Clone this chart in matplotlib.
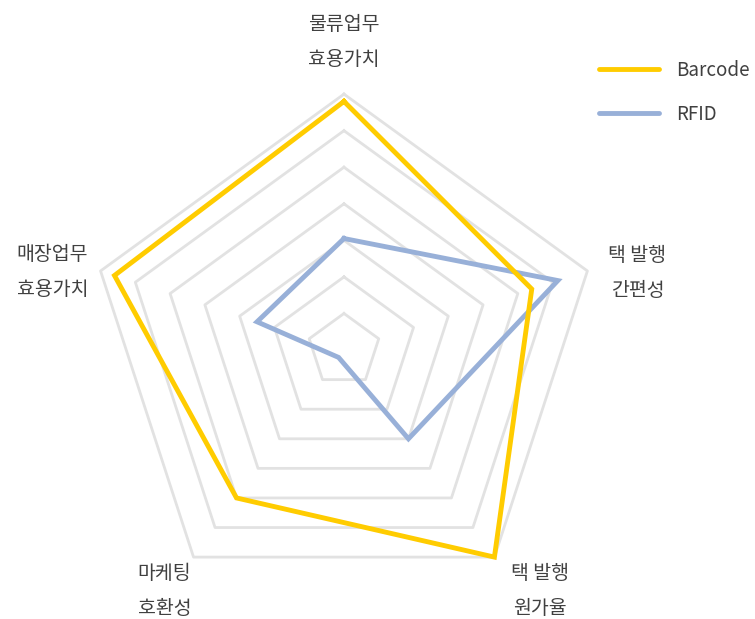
import numpy as np
import matplotlib
matplotlib.use('Agg')
import matplotlib.pyplot as plt

plt.rcParams['font.family'] = ['Noto Sans CJK KR', 'DejaVu Sans']

categories = [('물류업무', '효용가치'), ('택 발행', '간편성'), ('택 발행', '원가율'),
              ('마케팅', '호환성'), ('매장업무', '효용가치')]
barcode = [6.8, 5.4, 7.0, 5.0, 6.6]
rfid = [3.05, 6.15, 3.0, 0.25, 2.5]
levels = [1, 2, 3, 4, 5, 6, 7]

# label centre offsets (pixels) from each outer vertex
label_offsets = [(0, 52), (50, -2), (46, -34), (-29, -34), (-48, -1)]
line_gap = 35

angles = np.linspace(0, 2 * np.pi, len(categories), endpoint=False)
closed = np.append(angles, angles[0])

fig = plt.figure(figsize=(7.55, 6.19), dpi=100)
ax = fig.add_axes([0.1166, 0.021, 0.678, 0.827], projection='polar')
ax.set_theta_offset(np.pi / 2)
ax.set_theta_direction(-1)
ax.set_ylim(0, 7)
ax.grid(False)
ax.spines['polar'].set_visible(False)
ax.set_xticks([])
ax.set_yticks([])
ax.patch.set_alpha(0)

# pentagon grid
for lv in levels:
    ax.plot(closed, [lv] * len(closed), color='#e2e2e2', lw=2.0, zorder=1, clip_on=False)

ax.plot(closed, barcode + barcode[:1], color='#ffcc00', lw=3.5, zorder=3,
        clip_on=False, label='Barcode', solid_joinstyle='miter')
ax.plot(closed, rfid + rfid[:1], color='#98b0d8', lw=3.5, zorder=2,
        clip_on=False, label='RFID', solid_joinstyle='miter')

for a, (l1, l2), (dx, dy) in zip(angles, categories, label_offsets):
    for txt, y in ((l1, dy + line_gap / 2), (l2, dy - line_gap / 2)):
        ax.annotate(txt, xy=(a, 7), xytext=(dx, y), textcoords='offset pixels',
                    ha='center', va='center', fontsize=14, color='#404040',
                    annotation_clip=False)

leg = fig.legend(loc='upper left', bbox_to_anchor=(0.793, 0.903), frameon=False,
                 fontsize=13.5, handlelength=3.2, handletextpad=0.95,
                 labelspacing=1.2, borderaxespad=0, borderpad=0)
for t in leg.get_texts():
    t.set_color('#404040')
for h in leg.legend_handles:
    h.set_solid_capstyle('round')

fig.savefig('out.png', dpi=100)
